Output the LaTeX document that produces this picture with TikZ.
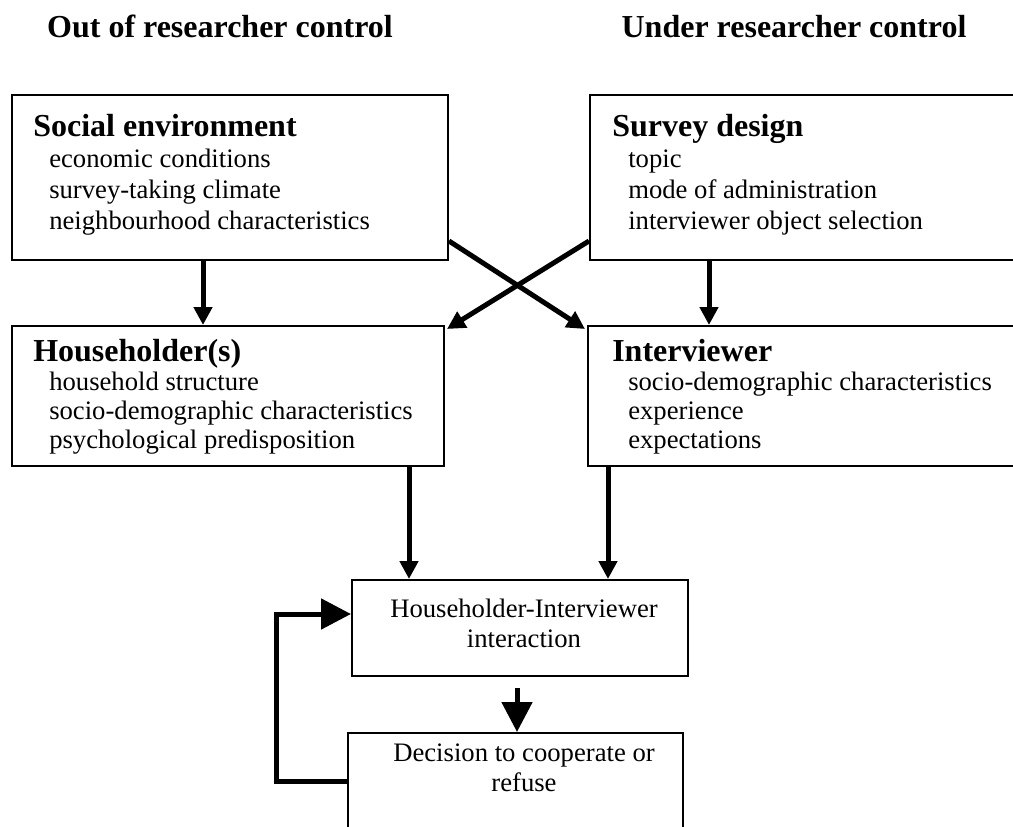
\documentclass[tikz,border=0pt]{standalone}
\usepackage{fontspec}
\setmainfont{Liberation Serif}
\usetikzlibrary{arrows.meta,calc}
\begin{document}
\begin{tikzpicture}[x=0.75pt,y=-0.75pt,
  box/.style={draw, line width=1.5pt, inner sep=0pt},
  title/.style={anchor=base, inner sep=0pt, font=\fontsize{24}{28}\selectfont\bfseries},
  head/.style={anchor=base west, inner sep=0pt, font=\fontsize{24}{28}\selectfont\bfseries},
  item/.style={anchor=base west, inner sep=0pt, font=\fontsize{20}{23}\selectfont},
  ctext/.style={anchor=base, inner sep=0pt, font=\fontsize{20}{23}\selectfont},
  link/.style={line width=3.75pt, -{Triangle[length=13.5pt,width=13.5pt]}},
  biglink/.style={line width=3.75pt, -{Triangle[length=22.5pt,width=22.5pt]}},
]
\clip (0,0) rectangle (1013,827);

% column titles
\node[title] (tout) at (220,38) {Out of researcher control};
\node[title] (tin)  at (794,38) {Under researcher control};

% boxes
\node[box, minimum width=327pt, minimum height=123.75pt] (soc) at (230,177.5) {};
\node[box, minimum width=322.5pt, minimum height=123.75pt] (svy) at (805,177.5) {};
\node[box, minimum width=324pt, minimum height=105pt] (hh) at (228,396) {};
\node[box, minimum width=324pt, minimum height=105pt] (itv) at (804,396) {};
\node[box, minimum width=252pt, minimum height=72pt] (inter) at (520,628) {};
\node[box, minimum width=251.25pt, minimum height=87.75pt] (dec) at (515.5,791.5) {};

% social environment
\node[head] (socH) at (33,137) {Social environment};
\node[item] (soc1) at (49,168) {economic conditions};
\node[item] (soc2) at (49,199) {survey-taking climate};
\node[item] (soc3) at (49,230) {neighbourhood characteristics};

% survey design
\node[head] (svyH) at (612,137) {Survey design};
\node[item] (svy1) at (628,168) {topic};
\node[item] (svy2) at (628,199) {mode of administration};
\node[item] (svy3) at (628,230) {interviewer object selection};

% householders
\node[head] (hhH) at (33,361) {Householder(s)};
\node[item] (hh1) at (49,390) {household structure};
\node[item] (hh2) at (49,419) {socio-demographic characteristics};
\node[item] (hh3) at (49,448) {psychological predisposition};

% interviewer
\node[head] (itvH) at (612,361) {Interviewer};
\node[item] (itv1) at (628,390) {socio-demographic characteristics};
\node[item] (itv2) at (628,419) {experience};
\node[item] (itv3) at (628,448) {expectations};

% interaction and decision
\node[ctext] (int1) at (524,617) {Householder-Interviewer};
\node[ctext] (int2) at (524,647) {interaction};
\node[ctext] (dec1) at (524,761) {Decision to cooperate or};
\node[ctext] (dec2) at (524,791) {refuse};

% connectors
\draw[link] ($(soc.south west)+(192,0)$) -- ($(hh.north west)+(192,0)$);
\draw[link] ($(svy.south west)+(120,0)$) -- ($(itv.north west)+(122,0)$);
\draw[link] ($(soc.south east)+(0,-20)$) -- ($(itv.north west)+(-2,4)$);
\draw[link] ($(svy.south west)+(0,-20)$) -- ($(hh.north east)+(2,4)$);
\draw[link] ($(hh.south west)+(398,0)$) -- ($(inter.north west)+(58,0)$);
\draw[link] ($(itv.south west)+(21,0)$) -- ($(inter.north west)+(257,0)$);
\draw[biglink] ($(inter.south)+(-3,11)$) -- ($(dec.north)+(1.5,0)$);
\draw[biglink] ($(dec.north west)+(0,49)$) -- ++(-71,0) |- ($(inter.north west)+(0,35)$);
\end{tikzpicture}
\end{document}
